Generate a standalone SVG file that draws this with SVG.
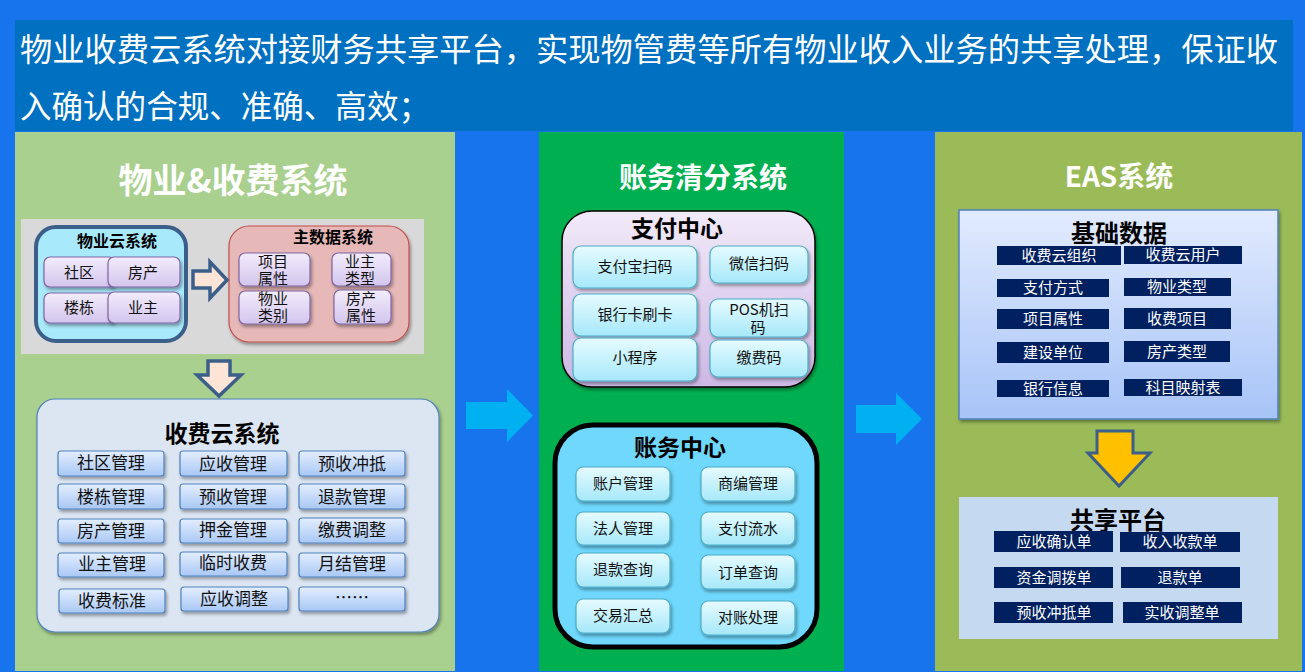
<svg xmlns="http://www.w3.org/2000/svg" width="1305" height="672" viewBox="0 0 1305 672">
<defs>
<linearGradient id="gLav" x1="0" y1="0" x2="0" y2="1"><stop offset="0" stop-color="#F2ECFB"/><stop offset="1" stop-color="#D3C5EE"/></linearGradient>
<linearGradient id="gPay" x1="0" y1="0" x2="0" y2="1"><stop offset="0" stop-color="#F1EAF8"/><stop offset="1" stop-color="#CDB8E6"/></linearGradient>
<linearGradient id="gCyan" x1="0" y1="0" x2="0" y2="1"><stop offset="0" stop-color="#E6FBFF"/><stop offset="1" stop-color="#A6E8FA"/></linearGradient>
<linearGradient id="gBlue" x1="0" y1="0" x2="0" y2="1"><stop offset="0" stop-color="#E3EEFF"/><stop offset="1" stop-color="#A9C8F5"/></linearGradient>
<linearGradient id="gBase" x1="0" y1="0" x2="0" y2="1"><stop offset="0" stop-color="#E2EBFE"/><stop offset="1" stop-color="#A7C4F7"/></linearGradient>
<filter id="sh" x="-20%" y="-20%" width="140%" height="150%"><feDropShadow dx="1.5" dy="2.5" stdDeviation="1.8" flood-color="#000" flood-opacity="0.35"/></filter>
</defs>
<style>
text{font-family:"Noto Sans CJK SC","Noto Sans",sans-serif;text-anchor:middle;}
.ptitle{fill:#fff;font-weight:700;}
.btitle{fill:#000;font-weight:700;}
.t15{font-size:15px;fill:#111;}
.t17{font-size:17px;fill:#111;}
.w15{font-size:15px;fill:#fff;}
.lav{fill:url(#gLav);stroke:#8064A2;stroke-width:1.2;}
.cyan{fill:url(#gCyan);stroke:#4BACC6;stroke-width:1.2;}
.blue{fill:url(#gBlue);stroke:#4F81BD;stroke-width:1.2;}
.navy{fill:#002060;}
</style>

<rect x="0" y="0" width="1305" height="672" fill="#1874EC"/>

<g id="header">
<rect x="15" y="20" width="1278" height="111" fill="#0070C0"/>
<text x="20" y="61" font-size="32" fill="#fff" style="text-anchor:start" textLength="1258" lengthAdjust="spacingAndGlyphs">物业收费云系统对接财务共享平台，实现物管费等所有物业收入业务的共享处理，保证收</text>
<text x="20" y="118" font-size="32" fill="#fff" style="text-anchor:start" textLength="410" lengthAdjust="spacingAndGlyphs">入确认的合规、准确、高效；</text>
</g>

<g id="panel-left">
<rect x="15" y="132" width="440" height="539" fill="#A9D08E"/>
<text class="ptitle" x="233" y="193" font-size="34">物业&amp;收费系统</text>
<rect x="21" y="219" width="403" height="135" fill="#D9D9D9"/>
</g>

<g id="wuyeyun">
<rect x="36" y="227" width="150" height="114" rx="20" fill="#A9E9FC" stroke="#3C5F8A" stroke-width="4"/>
<text class="btitle" x="117" y="247" font-size="16">物业云系统</text>
<rect class="lav" x="44" y="257" width="71" height="30" rx="6" filter="url(#sh)"/>
<rect class="lav" x="108" y="257" width="72" height="30" rx="6" filter="url(#sh)"/>
<rect class="lav" x="44" y="293" width="71" height="30" rx="6" filter="url(#sh)"/>
<rect class="lav" x="108" y="292" width="72" height="31" rx="6" filter="url(#sh)"/>
<text class="t15" x="79" y="278">社区</text>
<text class="t15" x="143" y="278">房产</text>
<text class="t15" x="79" y="313">楼栋</text>
<text class="t15" x="143" y="313">业主</text>
</g>

<g id="zhushuju">
<rect x="229" y="226" width="180" height="116" rx="20" fill="#E6B8B7" stroke="#C0504D" stroke-width="1.2" filter="url(#sh)"/>
<text class="btitle" x="333" y="243" font-size="16">主数据系统</text>
<rect class="lav" x="239" y="253" width="71" height="33" rx="6" filter="url(#sh)"/>
<rect class="lav" x="332" y="253" width="59" height="33" rx="6" filter="url(#sh)"/>
<rect class="lav" x="239" y="291" width="71" height="33" rx="6" filter="url(#sh)"/>
<rect class="lav" x="334" y="290" width="57" height="34" rx="6" filter="url(#sh)"/>
<text class="t15" x="273" y="267">项目<tspan x="273" dy="17">属性</tspan></text>
<text class="t15" x="360" y="267">业主<tspan x="360" dy="17">类型</tspan></text>
<text class="t15" x="273" y="304">物业<tspan x="273" dy="17">类别</tspan></text>
<text class="t15" x="361" y="304">房产<tspan x="361" dy="17">属性</tspan></text>
</g>

<g id="shoufeiyun">
<rect x="37" y="399" width="402" height="233" rx="18" fill="#DCE6F2" stroke="#4F81BD" stroke-width="1.2" filter="url(#sh)"/>
<text class="btitle" x="222" y="442" font-size="23">收费云系统</text>
<g filter="url(#sh)">
<rect class="blue" x="58" y="451" width="106" height="25" rx="3"/>
<rect class="blue" x="180" y="451" width="107" height="25" rx="3"/>
<rect class="blue" x="299" y="451" width="106" height="25" rx="3"/>
<rect class="blue" x="58" y="484" width="106" height="25" rx="3"/>
<rect class="blue" x="180" y="484" width="107" height="25" rx="3"/>
<rect class="blue" x="299" y="484" width="106" height="25" rx="3"/>
<rect class="blue" x="58" y="519" width="106" height="24" rx="3"/>
<rect class="blue" x="180" y="519" width="107" height="24" rx="3"/>
<rect class="blue" x="299" y="518" width="106" height="25" rx="3"/>
<rect class="blue" x="58" y="553" width="106" height="24" rx="3"/>
<rect class="blue" x="180" y="552" width="107" height="24" rx="3"/>
<rect class="blue" x="299" y="553" width="106" height="24" rx="3"/>
<rect class="blue" x="59" y="589" width="106" height="24" rx="3"/>
<rect class="blue" x="181" y="587" width="107" height="24" rx="3"/>
<rect class="blue" x="299" y="587" width="106" height="24" rx="3"/>
</g>
<text class="t17" x="111" y="469">社区管理</text>
<text class="t17" x="233" y="470">应收管理</text>
<text class="t17" x="352" y="470">预收冲抵</text>
<text class="t17" x="111" y="503">楼栋管理</text>
<text class="t17" x="233" y="503">预收管理</text>
<text class="t17" x="352" y="503">退款管理</text>
<text class="t17" x="111" y="537">房产管理</text>
<text class="t17" x="233" y="536">押金管理</text>
<text class="t17" x="352" y="536">缴费调整</text>
<text class="t17" x="112" y="570">业主管理</text>
<text class="t17" x="233" y="569">临时收费</text>
<text class="t17" x="352" y="570">月结管理</text>
<text class="t17" x="112" y="607">收费标准</text>
<text class="t17" x="234" y="605">应收调整</text>
<text class="t17" x="352" y="604">……</text>
</g>

<g id="panel-mid">
<rect x="539" y="132" width="305" height="539" fill="#00B050"/>
<text class="ptitle" x="703" y="188" font-size="28">账务清分系统</text>
</g>

<g id="zhifu">
<rect x="562" y="211" width="253" height="176" rx="30" fill="url(#gPay)" stroke="#000" stroke-width="1.5" filter="url(#sh)"/>
<text class="btitle" x="677" y="237" font-size="23">支付中心</text>
<g filter="url(#sh)">
<rect class="cyan" x="573" y="246" width="124" height="42" rx="8"/>
<rect class="cyan" x="710" y="246" width="98" height="37" rx="8"/>
<rect class="cyan" x="573" y="294" width="124" height="42" rx="8"/>
<rect class="cyan" x="710" y="299" width="98" height="38" rx="8"/>
<rect class="cyan" x="573" y="338" width="124" height="43" rx="8"/>
<rect class="cyan" x="710" y="340" width="98" height="37" rx="8"/>
</g>
<text class="t15" x="635" y="272">支付宝扫码</text>
<text class="t15" x="759" y="269">微信扫码</text>
<text class="t15" x="635" y="320">银行卡刷卡</text>
<text class="t15" x="759" y="315">POS机扫<tspan x="758" dy="18">码</tspan></text>
<text class="t15" x="635" y="363">小程序</text>
<text class="t15" x="759" y="363">缴费码</text>
</g>

<g id="zhangwu">
<rect x="555" y="425" width="262" height="222" rx="38" fill="#6FD8FC" stroke="#000" stroke-width="5"/>
<text class="btitle" x="680" y="456" font-size="23">账务中心</text>
<g filter="url(#sh)">
<rect class="cyan" x="576" y="467" width="94" height="34" rx="7"/>
<rect class="cyan" x="701" y="467" width="94" height="34" rx="7"/>
<rect class="cyan" x="576" y="512" width="94" height="33" rx="7"/>
<rect class="cyan" x="701" y="512" width="94" height="33" rx="7"/>
<rect class="cyan" x="576" y="553" width="94" height="34" rx="7"/>
<rect class="cyan" x="701" y="555" width="94" height="34" rx="7"/>
<rect class="cyan" x="576" y="599" width="94" height="34" rx="7"/>
<rect class="cyan" x="701" y="601" width="94" height="34" rx="7"/>
</g>
<text class="t15" x="623" y="489">账户管理</text>
<text class="t15" x="748" y="489">商编管理</text>
<text class="t15" x="623" y="534">法人管理</text>
<text class="t15" x="748" y="534">支付流水</text>
<text class="t15" x="623" y="575">退款查询</text>
<text class="t15" x="748" y="578">订单查询</text>
<text class="t15" x="623" y="621">交易汇总</text>
<text class="t15" x="748" y="623">对账处理</text>
</g>

<g id="panel-right">
<rect x="935" y="132" width="367" height="539" fill="#9BBB59"/>
<text class="ptitle" x="1119" y="187" font-size="28">EAS系统</text>
</g>

<g id="jichu">
<rect x="959" y="210" width="319" height="209" fill="url(#gBase)" stroke="#4F81BD" stroke-width="1.5" filter="url(#sh)"/>
<text class="btitle" x="1119" y="242" font-size="24">基础数据</text>
<rect class="navy" x="997" y="246" width="124" height="19"/>
<rect class="navy" x="1124" y="246" width="118" height="18"/>
<rect class="navy" x="997" y="279" width="112" height="18"/>
<rect class="navy" x="1124" y="278" width="107" height="18"/>
<rect class="navy" x="997" y="309" width="112" height="20"/>
<rect class="navy" x="1124" y="308" width="107" height="21"/>
<rect class="navy" x="997" y="342" width="112" height="21"/>
<rect class="navy" x="1124" y="341" width="106" height="21"/>
<rect class="navy" x="997" y="380" width="112" height="17"/>
<rect class="navy" x="1124" y="379" width="118" height="17"/>
<text class="w15" x="1059" y="261">收费云组织</text>
<text class="w15" x="1183" y="260">收费云用户</text>
<text class="w15" x="1053" y="293">支付方式</text>
<text class="w15" x="1177" y="292">物业类型</text>
<text class="w15" x="1053" y="324">项目属性</text>
<text class="w15" x="1177" y="324">收费项目</text>
<text class="w15" x="1053" y="358">建设单位</text>
<text class="w15" x="1177" y="357">房产类型</text>
<text class="w15" x="1053" y="394">银行信息</text>
<text class="w15" x="1183" y="393">科目映射表</text>
</g>

<g id="gongxiang">
<rect x="959" y="497" width="319" height="142" fill="#C5D9F1"/>
<text class="btitle" x="1118" y="529" font-size="24">共享平台</text>
<rect class="navy" x="994" y="531" width="119" height="21"/>
<rect class="navy" x="1120" y="532" width="120" height="20"/>
<rect class="navy" x="994" y="567" width="119" height="21"/>
<rect class="navy" x="1121" y="567" width="119" height="21"/>
<rect class="navy" x="994" y="602" width="119" height="21"/>
<rect class="navy" x="1123" y="602" width="119" height="21"/>
<text class="w15" x="1054" y="547">应收确认单</text>
<text class="w15" x="1180" y="547">收入收款单</text>
<text class="w15" x="1054" y="583">资金调拨单</text>
<text class="w15" x="1180" y="583">退款单</text>
<text class="w15" x="1054" y="618">预收冲抵单</text>
<text class="w15" x="1182" y="618">实收调整单</text>
</g>

<g id="connectors">
<polygon points="193,271 210,271 210,262 227,280 210,298 210,288 193,288" fill="#FCE4D6" stroke="#3C5F8A" stroke-width="3.5" stroke-linejoin="miter"/>
<polygon points="208,361 230,361 230,375 241,375 219,396 197,375 208,375" fill="#FCE4D6" stroke="#3C5F8A" stroke-width="3.5"/>
<polygon points="466,402 507,402 507,389 533,415.5 507,442 507,429 466,429" fill="#00B0F0"/>
<polygon points="856,405 896,405 896,393 922,419 896,445 896,433 856,433" fill="#00B0F0"/>
<polygon points="1097,431 1133,431 1133,453 1150,453 1119,486 1088,453 1097,453" fill="#FFC000" stroke="#3C5F8A" stroke-width="3"/>
</g>
</svg>
